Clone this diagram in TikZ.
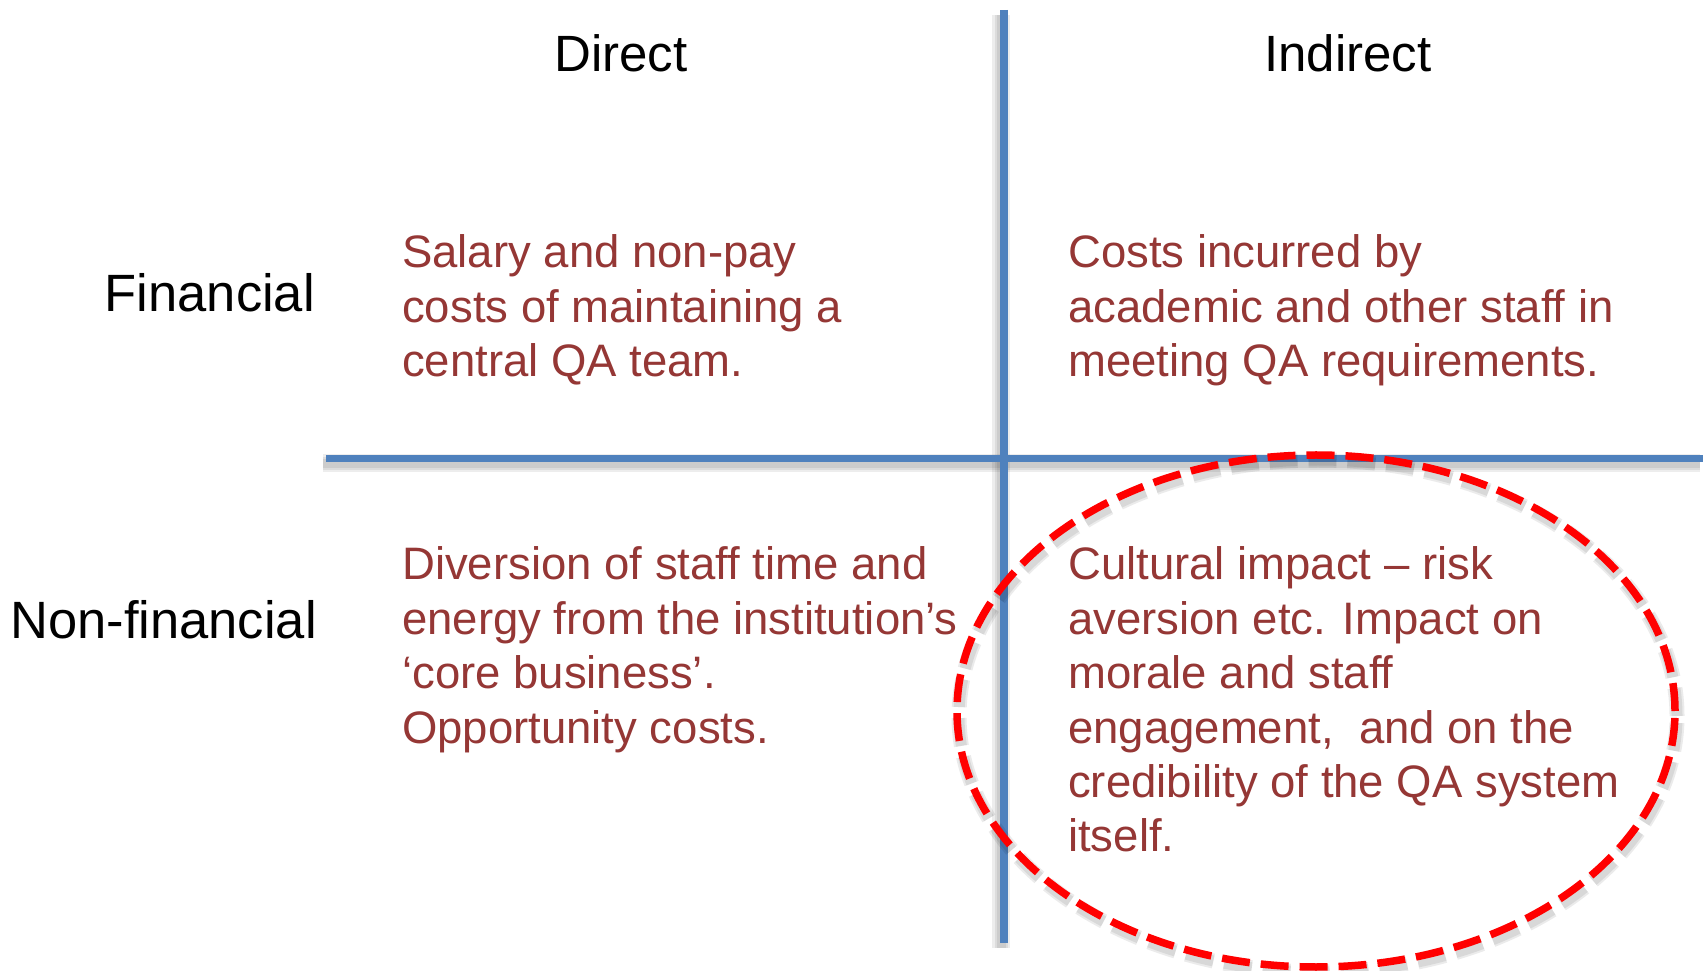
\documentclass[tikz,border=0pt]{standalone}
\usepackage{fontspec}
\setmainfont{Liberation Sans}
\definecolor{lineblue}{RGB}{79,129,189}
\definecolor{textred}{RGB}{149,55,53}
\definecolor{ringred}{RGB}{255,0,0}
\begin{document}
\begin{tikzpicture}[x=1pt,y=1pt,
  hdr/.style={inner sep=0pt, font=\fontsize{51}{60}\selectfont, text=black},
  rowhdr/.style={inner sep=0pt, font=\fontsize{52.5}{60}\selectfont, text=black},
  body/.style={inner sep=0pt, anchor=base west, font=\fontsize{45.5}{54.4}\selectfont, text=textred},
  gridline/.style={line width=7.5pt, draw=lineblue},
  softshadow/.style={line width=#1, draw=black, opacity=0.07},
  ringline/.style={line width=7.5pt, draw=ringred, dash pattern=on 28pt off 11pt},
  ringshadow/.style={line width=#1, draw=black, opacity=0.08, dash pattern=on 28pt off 11pt}]
\useasboundingbox (0,0) rectangle (1703,970);
\fill[white] (0,0) rectangle (1703,970);
% grid end points
\coordinate (vtop) at (1004,960);
\coordinate (vbot) at (1004,27);
\coordinate (hleft) at (326,511.5);
\coordinate (hright) at (1703,511.5);
% shadows of grid lines
\foreach \w in {18pt,13pt,9pt}{
  \draw[softshadow=\w] ([shift={(-3,-5)}]hleft) -- ([shift={(-3,-5)}]hright);
  \draw[softshadow=\w] ([shift={(-3,-5)}]vtop) -- ([shift={(-3,-5)}]vbot);
}
% grid lines
\draw[gridline] (hleft) -- (hright);
\draw[gridline] (vtop) -- (vbot);
% headers
\node[hdr, anchor=base] (direct) at (621,898) {Direct};
\node[hdr, anchor=base] (indirect) at (1348,898) {Indirect};
\node[rowhdr, anchor=base east] (fin) at (315,658) {Financial};
\node[rowhdr, anchor=base east] (nonfin) at (317,331) {Non-financial};
% cells
\node[body] (c11) at (402,702) {\begin{tabular}[t]{@{}l@{}}Salary and non-pay\\costs of maintaining a\\central QA team.\end{tabular}};
\node[body] (c12) at (1068,702) {\begin{tabular}[t]{@{}l@{}}Costs incurred by\\academic and other staff in\\meeting QA requirements.\end{tabular}};
\node[body] (c21) at (402,390) {\begin{tabular}[t]{@{}l@{}}Diversion of staff time and\\energy from the institution’s\\‘core business’.\\Opportunity costs.\end{tabular}};
\node[body] (c22) at (1068,390) {\begin{tabular}[t]{@{}l@{}}Cultural impact – risk\\aversion etc. Impact on\\morale and staff\\engagement,\ \ and on the\\credibility of the QA system\\itself.\end{tabular}};
% ring shadow
\foreach \w in {15pt,11pt}{
  \draw[ringshadow=\w] (1318,254) ellipse [x radius=359, y radius=256];
}
% ring
\draw[ringline] (1316,259) ellipse [x radius=359, y radius=256];
\end{tikzpicture}
\end{document}
